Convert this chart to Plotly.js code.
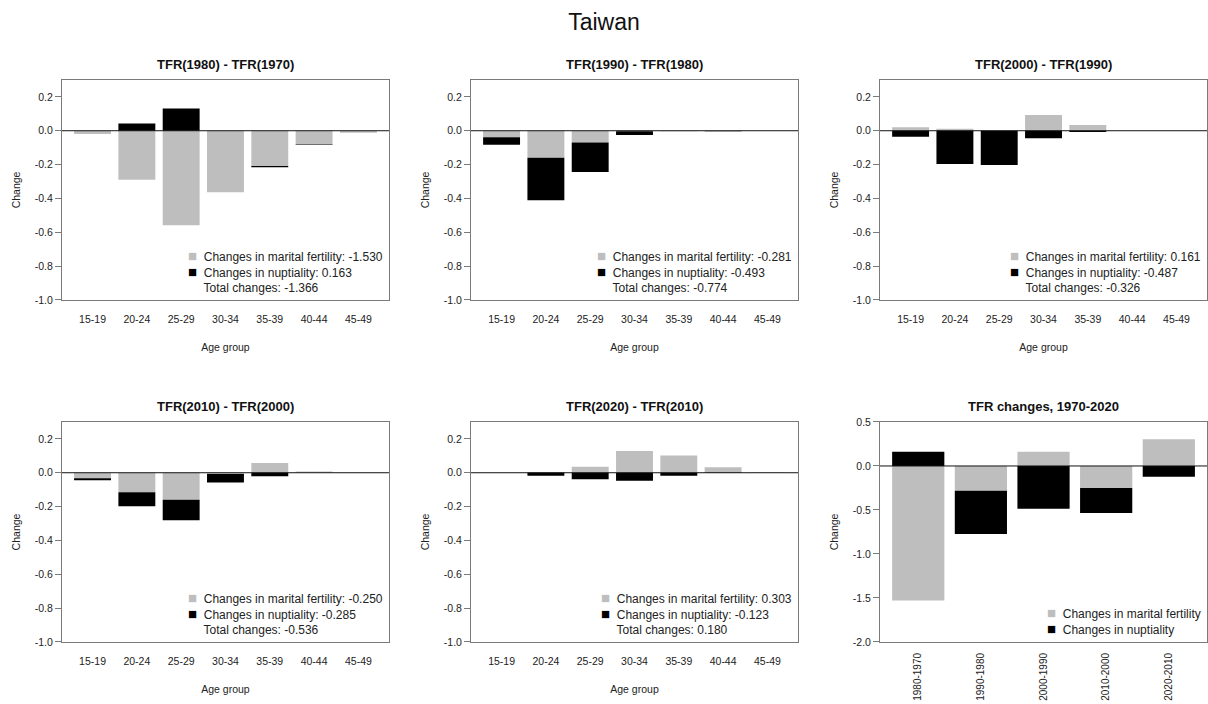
<!DOCTYPE html>
<html>
<head>
<meta charset="utf-8">
<script src="https://cdn.plot.ly/plotly-3.0.1.min.js"></script>
<style>html,body{margin:0;padding:0;background:#fff;}#chart{width:1208px;height:704px;}</style>
</head>
<body>
<div id="chart"></div>
<script>
// ---- Data ----
const ageGroups = ['15-19', '20-24', '25-29', '30-34', '35-39', '40-44', '45-49'];
const periodLabels = ['1980-1970', '1990-1980', '2000-1990', '2010-2000', '2020-2010'];
const panelTitles = ['TFR(1980) - TFR(1970)', 'TFR(1990) - TFR(1980)', 'TFR(2000) - TFR(1990)',
                     'TFR(2010) - TFR(2000)', 'TFR(2020) - TFR(2010)', 'TFR changes, 1970-2020'];

// Changes in marital fertility by age group
const mf1980_1970 = [-0.020, -0.290, -0.558, -0.363, -0.208, -0.081, -0.012];
const mf1990_1980 = [-0.038, -0.160, -0.069, -0.003, -0.003, -0.008, 0.000];
const mf2000_1990 = [0.020, 0.012, 0.002, 0.093, 0.034, 0.000, 0.000];
const mf2010_2000 = [-0.032, -0.115, -0.160, -0.008, 0.057, 0.008, 0.000];
const mf2020_2010 = [0.000, 0.005, 0.035, 0.128, 0.102, 0.032, 0.001];

// Changes in nuptiality by age group
const nup1980_1970 = [0.000, 0.043, 0.132, 0.000, -0.008, -0.004, 0.000];
const nup1990_1980 = [-0.045, -0.251, -0.175, -0.022, 0.000, 0.000, 0.000];
const nup2000_1990 = [-0.036, -0.196, -0.203, -0.044, -0.008, 0.000, 0.000];
const nup2010_2000 = [-0.012, -0.083, -0.121, -0.049, -0.020, 0.000, 0.000];
const nup2020_2010 = [0.000, -0.018, -0.038, -0.048, -0.018, -0.001, 0.000];

// Period totals (legend values and last panel)
const mfTotals = [-1.530, -0.281, 0.161, -0.250, 0.303];
const nupTotals = [0.163, -0.493, -0.487, -0.285, -0.123];
const totalChanges = [-1.366, -0.774, -0.326, -0.536, 0.180];

const mfSeries = [mf1980_1970, mf1990_1980, mf2000_1990, mf2010_2000, mf2020_2010];
const nupSeries = [nup1980_1970, nup1990_1980, nup2000_1990, nup2010_2000, nup2020_2010];

const ageTickVals = [0.2, 0.0, -0.2, -0.4, -0.6, -0.8, -1.0];
const totTickVals = [0.5, 0.0, -0.5, -1.0, -1.5, -2.0];

// ---- Styling ----
const FONT = 'Liberation Sans, Arial, Helvetica, sans-serif';
const TXT = '#222222';
const GRAY = '#bebebe';
const BOXC = '#7a7a7a';

const fmt = v => (v < 0 ? '-' : '') + Math.abs(v).toFixed(3);
const fmtTick = v => (v < 0 ? '-' : '') + Math.abs(v).toFixed(1);

const colDomains = [[0.0513, 0.3220], [0.3899, 0.6606], [0.7285, 0.9992]];
const rowDomains = [[0.5739, 0.8864], [0.0881, 0.4006]];

const traces = [];
const layout = {
  width: 1208, height: 704,
  margin: {l: 0, r: 0, t: 0, b: 0},
  paper_bgcolor: '#ffffff', plot_bgcolor: '#ffffff',
  barmode: 'relative',
  bargap: 0.2 / 1.2,
  showlegend: false,
  font: {family: FONT, color: TXT, size: 11},
  title: {text: 'Taiwan', font: {family: FONT, size: 23, color: '#111'}, x: 0.5, xanchor: 'center', y: 1 - 22 / 704, yanchor: 'middle'},
  annotations: [],
  shapes: []
};

for (let p = 0; p < 6; p++) {
  const n = p + 1;
  const xa = 'x' + (n === 1 ? '' : n);
  const ya = 'y' + (n === 1 ? '' : n);
  const row = p < 3 ? 0 : 1;
  const col = p % 3;
  const isTot = p === 5;
  const cats = isTot ? periodLabels : ageGroups;
  const mfv = isTot ? mfTotals : mfSeries[p];
  const nupv = isTot ? nupTotals : nupSeries[p];
  traces.push({type: 'bar', x: cats, y: mfv, xaxis: xa, yaxis: ya, name: 'Changes in marital fertility',
               marker: {color: GRAY, line: {width: 0}}, hoverinfo: 'x+y'});
  traces.push({type: 'bar', x: cats, y: nupv, xaxis: xa, yaxis: ya, name: 'Changes in nuptiality',
               marker: {color: '#000000', line: {width: 0}}, hoverinfo: 'x+y'});

  const nc = cats.length;
  const ext = 0.04 * (1.2 * nc - 0.2);
  const xr = [(0.2 - ext - 0.7) / 1.2, (1.2 * nc + ext - 0.7) / 1.2];
  const tv = isTot ? totTickVals : ageTickVals;
  const xKey = 'xaxis' + (n === 1 ? '' : n);
  const yKey = 'yaxis' + (n === 1 ? '' : n);
  layout[xKey] = {
    domain: colDomains[col], anchor: ya, type: 'category', range: xr, fixedrange: true,
    showline: true, mirror: true, linecolor: BOXC, linewidth: 1,
    showgrid: false, zeroline: false, ticks: '',
    tickangle: isTot ? -90 : 0,
    ticklabelstandoff: isTot ? 6 : 9,
    tickfont: {family: FONT, size: isTot ? 10 : 10.5, color: TXT},
    title: isTot ? {text: ''} : {text: 'Age group', font: {family: FONT, size: 10.5, color: TXT}, standoff: 20}
  };
  layout[yKey] = {
    domain: rowDomains[row], anchor: xa, range: isTot ? [-2.0, 0.5] : [-1.0, 0.3], fixedrange: true,
    showline: true, mirror: true, linecolor: BOXC, linewidth: 1,
    showgrid: false, zeroline: false,
    ticks: 'outside', ticklen: 6, tickcolor: BOXC, tickwidth: 1,
    tickvals: tv, ticktext: tv.map(fmtTick),
    tickfont: {family: FONT, size: 10.5, color: TXT},
    title: {text: 'Change', font: {family: FONT, size: 10.5, color: TXT}, standoff: 12}
  };
  // horizontal reference line at zero
  layout.shapes.push({type: 'line', xref: xa + ' domain', x0: 0, x1: 1, yref: ya, y0: 0, y1: 0,
                      line: {color: '#111', width: 1}, layer: 'above'});
  // subplot title
  layout.annotations.push({text: '<b>' + panelTitles[p] + '</b>', xref: xa + ' domain', yref: ya + ' domain',
                           x: 0.5, y: 1, xanchor: 'center', yanchor: 'middle', yshift: 15, showarrow: false,
                           font: {family: FONT, size: 13, color: '#111'}});
  // legend text
  const sq = c => '<span style="color:' + c + ';font-size:15px">\u25A0</span>  ';
  let legendText;
  if (isTot) {
    legendText = sq(GRAY) + 'Changes in marital fertility<br>' + sq('#000') + 'Changes in nuptiality';
  } else {
    legendText = sq(GRAY) + 'Changes in marital fertility: ' + fmt(mfTotals[p]) + '<br>' +
                 sq('#000') + 'Changes in nuptiality: ' + fmt(nupTotals[p]) + '<br>' +
                 sq('rgba(0,0,0,0)') + 'Total changes: ' + fmt(totalChanges[p]);
  }
  layout.annotations.push({text: legendText, xref: xa + ' domain', yref: ya + ' domain',
                           x: 1, y: 0, xanchor: 'right', yanchor: 'bottom', xshift: -4, yshift: 3,
                           align: 'left', showarrow: false,
                           font: {family: FONT, size: 12, color: TXT}});
}

Plotly.newPlot('chart', traces, layout, {staticPlot: true, displayModeBar: false});
</script>
</body>
</html>
